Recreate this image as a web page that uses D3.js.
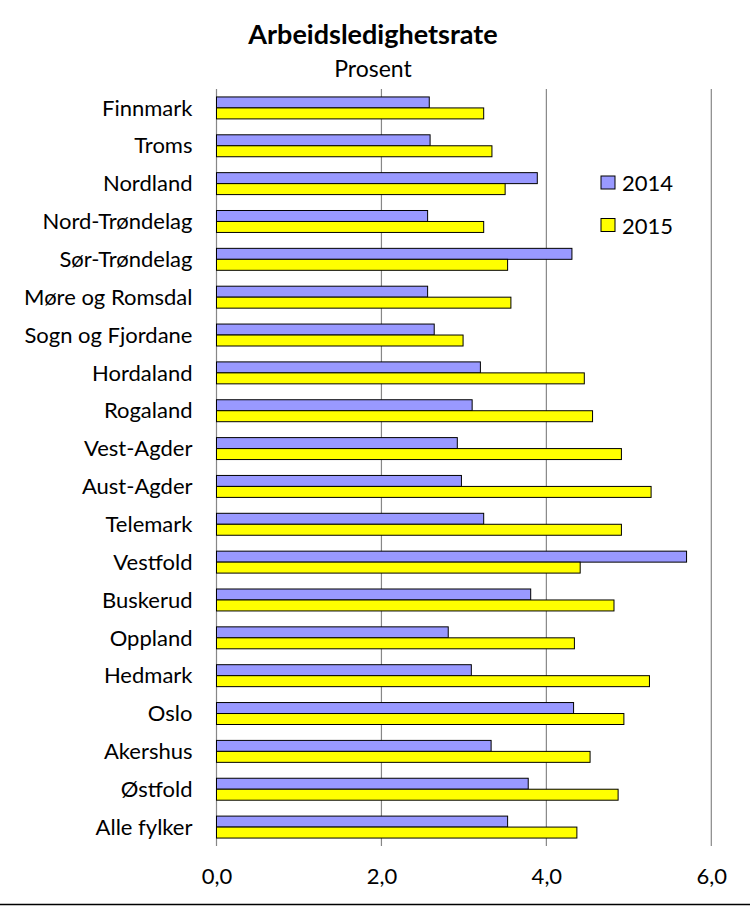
<!DOCTYPE html>
<html>
<head>
<meta charset="utf-8">
<script src="https://cdn.jsdelivr.net/npm/d3@7"></script>
<style>
  body { margin: 0; background: #fff; }
  svg text { font-family: Lato, "Open Sans", sans-serif; fill: #000; }
</style>
</head>
<body>
<div id="chart"></div>
<script>
var fylker = ["Finnmark", "Troms", "Nordland", "Nord-Trøndelag", "Sør-Trøndelag",
  "Møre og Romsdal", "Sogn og Fjordane", "Hordaland", "Rogaland", "Vest-Agder",
  "Aust-Agder", "Telemark", "Vestfold", "Buskerud", "Oppland", "Hedmark",
  "Oslo", "Akershus", "Østfold", "Alle fylker"];
var rate2014 = [2.58, 2.59, 3.89, 2.56, 4.31, 2.56, 2.64, 3.20, 3.10, 2.92,
  2.97, 3.24, 5.70, 3.81, 2.81, 3.09, 4.33, 3.33, 3.78, 3.53];
var rate2015 = [3.24, 3.34, 3.50, 3.24, 3.53, 3.57, 2.99, 4.46, 4.56, 4.91,
  5.27, 4.91, 4.41, 4.82, 4.34, 5.25, 4.94, 4.53, 4.87, 4.37];
var years = ["2014", "2015"];
var xTicks = [0, 2, 4, 6];

var colors = { "2014": "#9999ff", "2015": "#ffff00" };

var W = 750, H = 906;
var margin = {top: 89, right: 39, bottom: 60, left: 216.5},
    width = 711.3 - margin.left,
    height = 846 - margin.top;

var svg = d3.select("#chart")
  .append("svg")
    .attr("width", W)
    .attr("height", H);

var g = svg.append("g")
    .attr("transform", "translate(" + margin.left + "," + margin.top + ")");

var x = d3.scaleLinear().domain([0, 6]).range([0, width]);
var y = d3.scaleBand().domain(fylker).range([0, height]).paddingInner(0.42).paddingOuter(0.21);
var y1 = d3.scaleBand().domain(years).range([0, y.bandwidth()]);

// gridlines
g.selectAll("line.grid")
  .data(xTicks)
  .enter().append("line")
    .attr("class", "grid")
    .attr("x1", function(d) { return x(d); })
    .attr("x2", function(d) { return x(d); })
    .attr("y1", 0)
    .attr("y2", height)
    .attr("stroke", "#878787")
    .attr("stroke-width", 1.2);

var data = fylker.map(function(f, i) {
  return { name: f, values: [ {year: "2014", v: rate2014[i]}, {year: "2015", v: rate2015[i]} ] };
});

var grp = g.selectAll("g.cat")
  .data(data)
  .enter().append("g")
    .attr("class", "cat")
    .attr("transform", function(d) { return "translate(0," + y(d.name) + ")"; });

grp.selectAll("rect")
  .data(function(d) { return d.values; })
  .enter().append("rect")
    .attr("x", x(0))
    .attr("y", function(d) { return y1(d.year); })
    .attr("width", function(d) { return x(d.v) - x(0); })
    .attr("height", y1.bandwidth())
    .attr("fill", function(d) { return colors[d.year]; })
    .attr("stroke", "#000")
    .attr("stroke-width", 1);

// category labels
var yAxis = g.append("g")
  .call(d3.axisLeft(y).tickSize(0).tickPadding(24));
yAxis.select(".domain").remove();
yAxis.selectAll("text")
  .style("font-size", "22px")
  .attr("dy", "0.35em");

// x tick labels
var xAxis = g.append("g")
  .attr("transform", "translate(0," + height + ")")
  .call(d3.axisBottom(x).tickValues(xTicks).tickSize(0).tickPadding(22)
    .tickFormat(function(d) { return d3.format(".1f")(d).replace(".", ","); }));
xAxis.select(".domain").remove();
xAxis.selectAll("text").style("font-size", "22px");

// title
svg.append("text")
  .attr("x", 373).attr("y", 44)
  .attr("text-anchor", "middle")
  .style("font-size", "27px")
  .style("font-weight", "bold")
  .text("Arbeidsledighetsrate");
svg.append("text")
  .attr("x", 373).attr("y", 77)
  .attr("text-anchor", "middle")
  .style("font-size", "23px")
  .text("Prosent");

// legend
var legend = svg.append("g").attr("transform", "translate(601,176)");
var li = legend.selectAll("g")
  .data(years)
  .enter().append("g")
    .attr("transform", function(d, i) { return "translate(0," + (i * 42.5) + ")"; });
li.append("rect")
  .attr("width", 14).attr("height", 13)
  .attr("fill", function(d) { return colors[d]; })
  .attr("stroke", "#000").attr("stroke-width", 1);
li.append("text")
  .attr("x", 21).attr("y", 15)
  .style("font-size", "22px")
  .text(function(d) { return d; });

// bottom frame line
svg.append("line")
  .attr("x1", 0).attr("x2", W)
  .attr("y1", 904.5).attr("y2", 904.5)
  .attr("stroke", "#000").attr("stroke-width", 1.5);
</script>
</body>
</html>
